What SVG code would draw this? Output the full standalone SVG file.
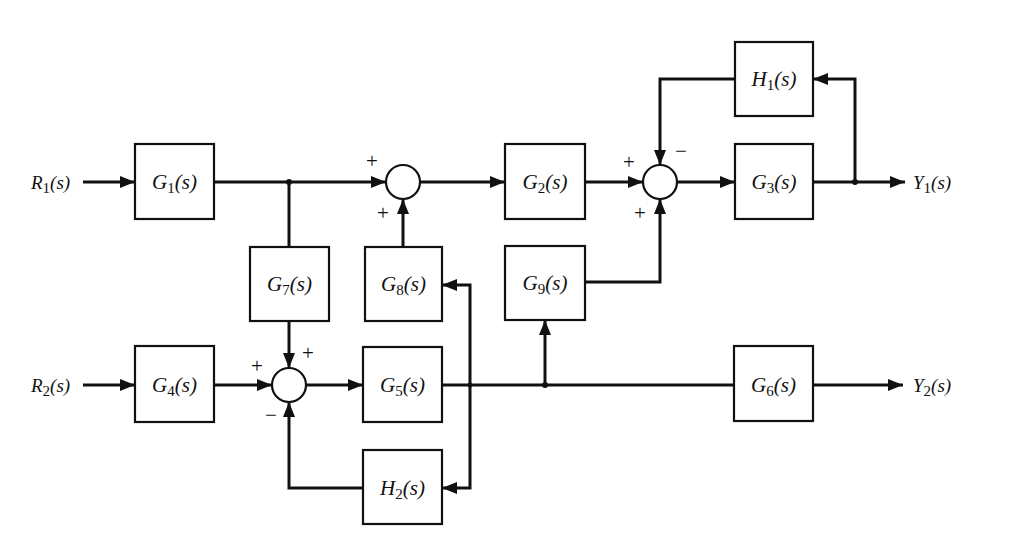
<svg xmlns="http://www.w3.org/2000/svg" width="1022" height="539" viewBox="0 0 1022 539">
<style>
.blk{fill:#fff;stroke:#111;stroke-width:2.2}
.sum{fill:#fff;stroke:#111;stroke-width:2.2}
.ln{fill:none;stroke:#111;stroke-width:3}
.ar{fill:none;stroke:#111;stroke-width:3;marker-end:url(#ah)}
.lbl{font-family:"Liberation Serif",serif;font-style:italic;font-size:21px;fill:#111;text-anchor:middle}
.io{font-family:"Liberation Serif",serif;font-style:italic;font-size:19px;fill:#111}
.sub{font-style:normal;font-size:15px}
.sg{font-family:"Liberation Serif",serif;font-size:21px;fill:#111;text-anchor:middle}
.dot{fill:#111}
</style>
<defs>
<marker id="ah" markerUnits="userSpaceOnUse" markerWidth="15" markerHeight="12" refX="15" refY="6" orient="auto">
<path d="M0,0 L15,6 L0,12 z" fill="#111"/>
</marker>
</defs>
<rect width="1022" height="539" fill="#fff"/>
<g id="connectors">
<path class="ar" d="M83,182 H135"/>
<path class="ar" d="M214,182 H386"/>
<path class="ln" d="M289,182 V247"/>
<path class="ar" d="M289,321 V368"/>
<path class="ar" d="M403,247 V199"/>
<path class="ar" d="M420,182 H505"/>
<path class="ar" d="M585,182 H643"/>
<path class="ar" d="M677,182 H735"/>
<path class="ar" d="M813,182 H905"/>
<path class="ar" d="M855,182 V79 H813"/>
<path class="ar" d="M735,79 H660 V165"/>
<path class="ar" d="M585,282 H660 V199"/>
<path class="ar" d="M83,385 H135"/>
<path class="ar" d="M214,385 H272"/>
<path class="ar" d="M306,385 H363"/>
<path class="ln" d="M442,385 H735"/>
<path class="ar" d="M470,385 V285 H442"/>
<path class="ar" d="M470,385 V488 H442"/>
<path class="ar" d="M545,385 V320"/>
<path class="ar" d="M813,385 H903"/>
<path class="ar" d="M363,488 H289 V402"/>
<circle class="dot" cx="289" cy="182" r="3"/>
<circle class="dot" cx="855" cy="182" r="3"/>
<circle class="dot" cx="545" cy="385" r="3"/>
<circle class="dot" cx="470" cy="385" r="2.5"/>
</g>
<g id="R1"><text class="io" x="31" y="189">R<tspan class="sub" dy="4">1</tspan><tspan dy="-4">(s)</tspan></text></g>
<g id="R2"><text class="io" x="31" y="392">R<tspan class="sub" dy="4">2</tspan><tspan dy="-4">(s)</tspan></text></g>
<g id="Y1"><text class="io" x="913" y="189">Y<tspan class="sub" dy="4">1</tspan><tspan dy="-4">(s)</tspan></text></g>
<g id="Y2"><text class="io" x="913" y="392">Y<tspan class="sub" dy="4">2</tspan><tspan dy="-4">(s)</tspan></text></g>
<g id="G1"><rect class="blk" x="135" y="144" width="79" height="75"/><text class="lbl" x="174.5" y="189">G<tspan class="sub" dy="4">1</tspan><tspan dy="-4">(s)</tspan></text></g>
<g id="G2"><rect class="blk" x="505" y="144" width="80" height="75"/><text class="lbl" x="545" y="189">G<tspan class="sub" dy="4">2</tspan><tspan dy="-4">(s)</tspan></text></g>
<g id="G3"><rect class="blk" x="735" y="144" width="78" height="75"/><text class="lbl" x="774" y="189">G<tspan class="sub" dy="4">3</tspan><tspan dy="-4">(s)</tspan></text></g>
<g id="H1"><rect class="blk" x="735" y="42" width="78" height="74"/><text class="lbl" x="774" y="86">H<tspan class="sub" dy="4">1</tspan><tspan dy="-4">(s)</tspan></text></g>
<g id="G7"><rect class="blk" x="250" y="247" width="79" height="74"/><text class="lbl" x="289.5" y="291">G<tspan class="sub" dy="4">7</tspan><tspan dy="-4">(s)</tspan></text></g>
<g id="G8"><rect class="blk" x="365" y="247" width="77" height="74"/><text class="lbl" x="403.5" y="291">G<tspan class="sub" dy="4">8</tspan><tspan dy="-4">(s)</tspan></text></g>
<g id="G9"><rect class="blk" x="505" y="246" width="80" height="74"/><text class="lbl" x="545" y="290">G<tspan class="sub" dy="4">9</tspan><tspan dy="-4">(s)</tspan></text></g>
<g id="G4"><rect class="blk" x="135" y="346" width="79" height="76"/><text class="lbl" x="174.5" y="392">G<tspan class="sub" dy="4">4</tspan><tspan dy="-4">(s)</tspan></text></g>
<g id="G5"><rect class="blk" x="363" y="347" width="79" height="75"/><text class="lbl" x="402.5" y="392">G<tspan class="sub" dy="4">5</tspan><tspan dy="-4">(s)</tspan></text></g>
<g id="G6"><rect class="blk" x="734" y="346" width="79" height="75"/><text class="lbl" x="773.5" y="392">G<tspan class="sub" dy="4">6</tspan><tspan dy="-4">(s)</tspan></text></g>
<g id="H2"><rect class="blk" x="363" y="450" width="79" height="74"/><text class="lbl" x="402.5" y="495">H<tspan class="sub" dy="4">2</tspan><tspan dy="-4">(s)</tspan></text></g>
<g id="S1"><circle class="sum" cx="403" cy="182" r="17"/><text class="sg" x="372" y="168">+</text><text class="sg" x="383" y="220">+</text></g>
<g id="S2"><circle class="sum" cx="660" cy="182" r="17"/><text class="sg" x="629" y="169">+</text><text class="sg" x="681" y="158">−</text><text class="sg" x="640" y="220">+</text></g>
<g id="S3"><circle class="sum" cx="289" cy="385" r="17"/><text class="sg" x="257" y="373">+</text><text class="sg" x="308" y="360">+</text><text class="sg" x="271" y="422">−</text></g>
</svg>
